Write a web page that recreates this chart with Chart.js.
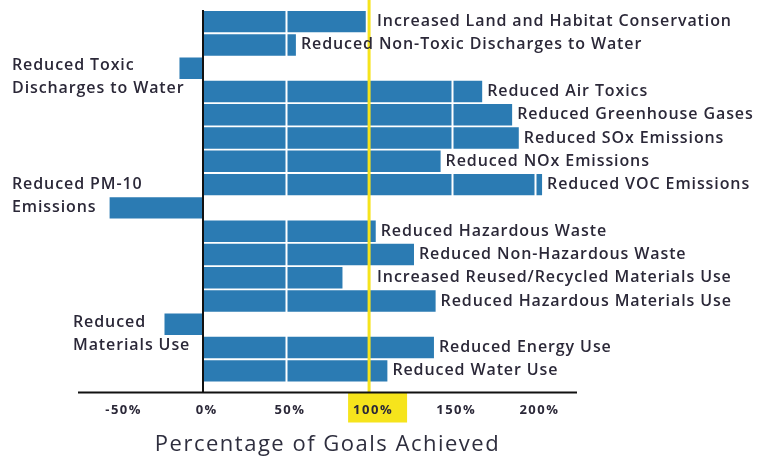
<!DOCTYPE html>
<html>
<head>
<meta charset="utf-8">
<script src="https://cdn.jsdelivr.net/npm/chart.js@4/dist/chart.umd.min.js"></script>
<style>
  html, body { margin: 0; padding: 0; background: #fff; }
  #wrap { width: 759px; height: 460px; position: relative; }
</style>
</head>
<body>
<div id="wrap"><canvas id="goalsChart"></canvas></div>
<script>
// goals achieved, %
const categories = [
  "Increased Land and Habitat Conservation",
  "Reduced Non-Toxic Discharges to Water",
  ["Reduced Toxic", "Discharges to Water"],
  "Reduced Air Toxics",
  "Reduced Greenhouse Gases",
  "Reduced SOx Emissions",
  "Reduced NOx Emissions",
  "Reduced VOC Emissions",
  ["Reduced PM-10", "Emissions"],
  "Reduced Hazardous Waste",
  "Reduced Non-Hazardous Waste",
  "Increased Reused/Recycled Materials Use",
  "Reduced Hazardous Materials Use",
  ["Reduced", "Materials Use"],
  "Reduced Energy Use",
  "Reduced Water Use"
];
const achieved = [98, 56, -14, 168, 186, 190, 143, 204, -56, 104, 127, 84, 140, -23, 139, 111];
const tickValues = [-50, 0, 50, 100, 150, 200];
const goalLine = 100;

const barColor = "#2b7bb3";
const yellow = "#f6e41c";
const textColor = "#2b2838";
const fontFamily = "'Open Sans', sans-serif";

// label placement
const negLabelPlace = { 2: { x: 12, dy: -3 }, 8: { x: 12, dy: -23 }, 13: { x: 73, dy: -2 } };
const pastGoal = [0, 11];
const axisGap = 10;

const overlay = {
  id: "overlay",
  beforeDraw(chart) {
    const ctx = chart.ctx;
    const xs = chart.scales.x;
    const px = xs.getPixelForValue(goalLine);
    const yAxis = chart.chartArea.bottom + axisGap;
    ctx.save();
    ctx.fillStyle = yellow;
    ctx.fillRect(px - 21, yAxis, 59, 30);
    ctx.restore();
    // wide-set axis text, like the original
    ctx.letterSpacing = "1.5px";
  },
  afterDatasetsDraw(chart) {
    const ctx = chart.ctx;
    const xs = chart.scales.x;
    const area = chart.chartArea;
    const yAxis = area.bottom + axisGap;
    ctx.save();
    // white grid lines over the bars
    ctx.strokeStyle = "#fff";
    ctx.lineWidth = 2;
    [50, 150, 200].forEach(v => {
      const x = Math.round(xs.getPixelForValue(v)) + 0.5;
      ctx.beginPath();
      ctx.moveTo(x, area.top);
      ctx.lineTo(x, area.bottom);
      ctx.stroke();
    });
    // goal line
    ctx.strokeStyle = yellow;
    ctx.lineWidth = 3;
    const gx = xs.getPixelForValue(goalLine);
    ctx.beginPath();
    ctx.moveTo(gx, 0);
    ctx.lineTo(gx, yAxis);
    ctx.stroke();
    // zero line and x axis
    ctx.strokeStyle = "#111";
    ctx.lineWidth = 2;
    const zx = Math.round(xs.getPixelForValue(0));
    ctx.beginPath();
    ctx.moveTo(zx, area.top);
    ctx.lineTo(zx, yAxis);
    ctx.stroke();
    ctx.beginPath();
    ctx.moveTo(area.left, yAxis);
    ctx.lineTo(area.right, yAxis);
    ctx.stroke();

    // bar labels
    ctx.fillStyle = textColor;
    ctx.font = "600 16px " + fontFamily;
    ctx.letterSpacing = "0.9px";
    ctx.textBaseline = "middle";
    ctx.textAlign = "left";
    const meta = chart.getDatasetMeta(0);
    meta.data.forEach((bar, i) => {
      const lab = categories[i];
      const v = achieved[i];
      if (v >= 0) {
        const x = pastGoal.includes(i) ? Math.max(bar.x, gx) + 8 : bar.x + 5;
        ctx.fillText(lab, x, bar.y);
      } else {
        const p = negLabelPlace[i] || { x: 12, dy: 0 };
        lab.forEach((line, k) => ctx.fillText(line, p.x, bar.y + p.dy + k * 23));
      }
    });
    ctx.restore();
  }
};

new Chart(document.getElementById("goalsChart"), {
  type: "bar",
  data: {
    labels: categories,
    datasets: [{
      data: achieved,
      backgroundColor: barColor,
      borderWidth: 0,
      barPercentage: 0.92,
      categoryPercentage: 1
    }]
  },
  options: {
    indexAxis: "y",
    responsive: true,
    maintainAspectRatio: false,
    animation: false,
    layout: { padding: { top: 10, left: 78, right: 182, bottom: 0 } },
    plugins: { legend: { display: false }, tooltip: { enabled: false } },
    scales: {
      y: { display: false },
      x: {
        min: -75,
        max: 225,
        afterBuildTicks: s => { s.ticks = tickValues.map(v => ({ value: v })); },
        border: { display: false },
        grid: { display: false, drawTicks: false },
        ticks: {
          padding: 20,
          labelOffset: 4,
          color: textColor,
          font: { family: fontFamily, size: 13, weight: "700" },
          callback: v => v + "%"
        },
        title: {
          display: true,
          text: "Percentage of Goals Achieved",
          color: "#2e2e3e",
          font: { family: fontFamily, size: 22 },
          padding: { top: -6.3, bottom: 1.8 }
        }
      }
    }
  },
  plugins: [overlay]
});
</script>
</body>
</html>
